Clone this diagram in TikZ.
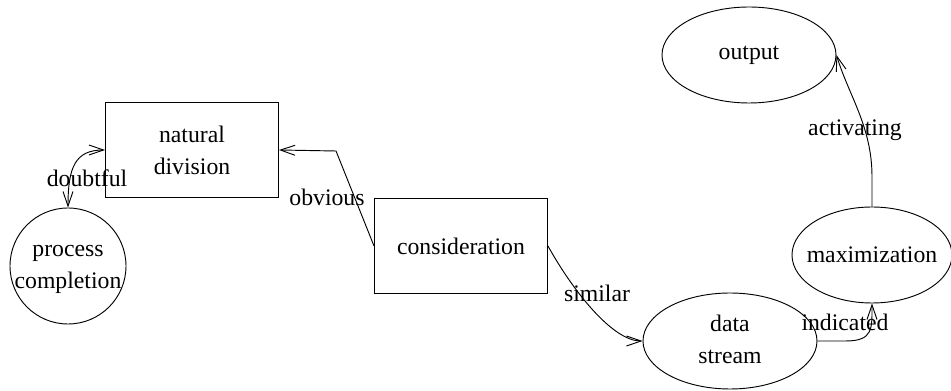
\documentclass[tikz,border=0pt]{standalone}
\usepackage{fontspec}
\setmainfont{Liberation Serif}
\usetikzlibrary{shapes.geometric,arrows.meta}
\begin{document}
\begin{tikzpicture}[x=0.75pt,y=-0.75pt,
  every node/.style={font=\fontsize{17.8}{24}\selectfont},
  box/.style={draw, rectangle, line width=0.7pt, inner sep=0pt, minimum width=129.75pt, minimum height=71.25pt, align=center},
  oval/.style={draw, ellipse, line width=0.7pt, inner sep=0pt, minimum height=72pt},
  rnd/.style={draw, circle, line width=0.7pt, inner sep=0pt, minimum size=87pt},
  lbl/.style={inner sep=0pt},
  conn/.style={line width=0.7pt, >={Straight Barb[length=11pt,width=7.5pt]}}
]
\useasboundingbox (0,0) rectangle (951,391);
\node[box] (nd) at (192,150) {natural\\division};
\node[box] (cons) at (461,246) {consideration};
\node[rnd] (pc) at (68,266) {\makebox[0pt]{\begin{tabular}{@{}c@{}}process\\completion\end{tabular}}};
\node[oval, minimum width=130.5pt] (out) at (749,55) {\makebox[0pt]{output}};
\node[oval, minimum width=130.5pt] (ds) at (730,341) {\makebox[0pt]{\begin{tabular}{@{}c@{}}data\\stream\end{tabular}}};
\node[oval, minimum width=120pt] (mx) at (872,255) {\makebox[0pt]{maximization}};

\draw[conn,<->] (pc.north) .. controls +(0,-40) and +(-30,0) .. (nd.west);
\draw[conn,->] (cons.west) -- ++(-38,-95) -- (nd.east);
\draw[conn,->] (cons.east) .. controls +(25,45) and +(-30,0) .. (ds.west);
\draw[conn,->] (ds.east) -- ++(28,0) .. controls +(28,0) and +(0,25) .. (mx.south);
\draw[conn,->] (mx.north) -- ++(0,-30) .. controls +(0,-50) and +(12,40) .. (out.east);

\node[lbl] (l1) at (87,178) {doubtful};
\node[lbl] (l2) at (327,197) {obvious};
\node[lbl] (l3) at (597,293) {similar};
\node[lbl] (l4) at (845,322) {indicated};
\node[lbl] (l5) at (855,130) {activating};
\end{tikzpicture}
\end{document}
